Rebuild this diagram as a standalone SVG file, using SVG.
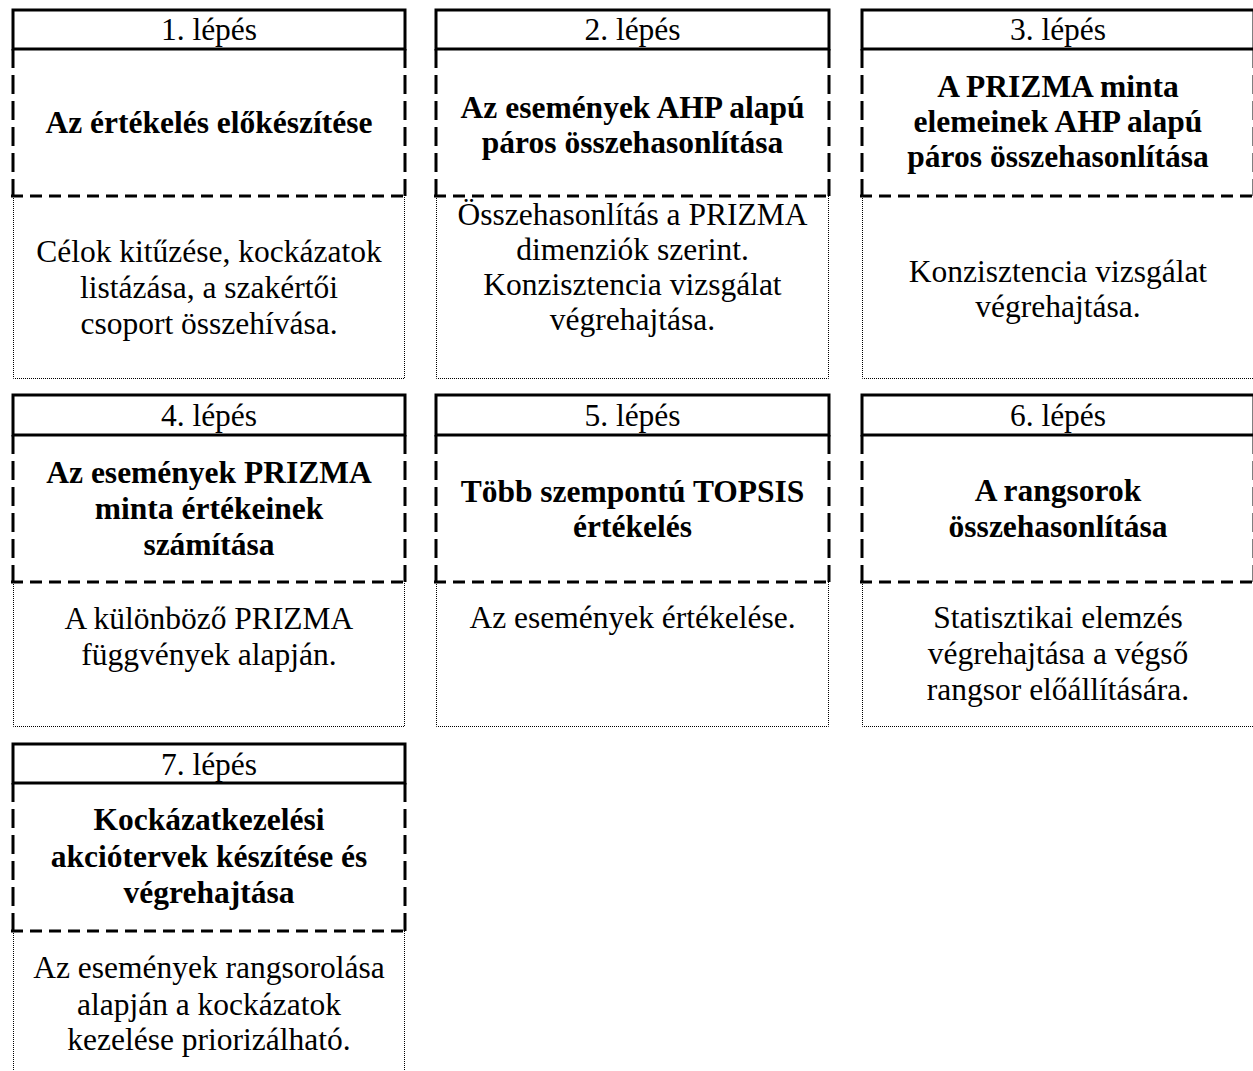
<svg xmlns="http://www.w3.org/2000/svg" width="1253" height="1071" viewBox="0 0 1253 1071">
<style>
  text { font-family: "Liberation Serif", "Times New Roman", serif; font-size: 31.5px; fill: #000; text-anchor: middle; }
  .b { font-weight: bold; }
  .hdr { fill: #fff; stroke: #000; stroke-width: 3; }
  .dh { stroke: #000; stroke-width: 3; stroke-dasharray: 12 7; fill: none; }
  .dv { stroke: #000; stroke-width: 3; stroke-dasharray: 19 7; fill: none; }
  .dt { stroke: #000; stroke-width: 1; stroke-dasharray: 1 1; fill: none; }
</style>
<rect width="1253" height="1071" fill="#fff"/>
<g id="connectors"/>

<g id="node1">
  <rect class="hdr" x="13" y="10" width="392" height="39"/>
  <text x="209" y="40">1. lépés</text>
  <line class="dv" x1="13" y1="49" x2="13" y2="196"/>
  <line class="dv" x1="405" y1="49" x2="405" y2="196"/>
  <polyline class="dt" points="13.5,196 13.5,378.5 404.5,378.5 404.5,196"/>
  <line class="dh" x1="11" y1="196" x2="407" y2="196"/>
  <text class="b" x="209" y="133">Az értékelés előkészítése</text>
  <text x="209" y="262">Célok kitűzése, kockázatok</text>
  <text x="209" y="298">listázása, a szakértői</text>
  <text x="209" y="334">csoport összehívása.</text>
</g>

<g id="node2">
  <rect class="hdr" x="436" y="10" width="393" height="39"/>
  <text x="632.5" y="40">2. lépés</text>
  <line class="dv" x1="436" y1="49" x2="436" y2="196"/>
  <line class="dv" x1="829" y1="49" x2="829" y2="196"/>
  <polyline class="dt" points="436.5,196 436.5,378.5 828.5,378.5 828.5,196"/>
  <line class="dh" x1="434" y1="196" x2="831" y2="196"/>
  <text class="b" x="632.5" y="118">Az események AHP alapú</text>
  <text class="b" x="632.5" y="153">páros összehasonlítása</text>
  <text x="632.5" y="225">Összehasonlítás a PRIZMA</text>
  <text x="632.5" y="260">dimenziók szerint.</text>
  <text x="632.5" y="295">Konzisztencia vizsgálat</text>
  <text x="632.5" y="330">végrehajtása.</text>
</g>

<g id="node3">
  <rect class="hdr" x="862" y="10" width="392" height="39"/>
  <text x="1058" y="40">3. lépés</text>
  <line class="dv" x1="862" y1="49" x2="862" y2="196"/>
  <line class="dv" x1="1254" y1="49" x2="1254" y2="196"/>
  <polyline class="dt" points="862.5,196 862.5,378.5 1253.5,378.5 1253.5,196"/>
  <line class="dh" x1="860" y1="196" x2="1256" y2="196"/>
  <text class="b" x="1058" y="97">A PRIZMA minta</text>
  <text class="b" x="1058" y="132">elemeinek AHP alapú</text>
  <text class="b" x="1058" y="167">páros összehasonlítása</text>
  <text x="1058" y="282">Konzisztencia vizsgálat</text>
  <text x="1058" y="317">végrehajtása.</text>
</g>

<g id="node4">
  <rect class="hdr" x="13" y="395" width="392" height="40"/>
  <text x="209" y="426">4. lépés</text>
  <line class="dv" x1="13" y1="435" x2="13" y2="582"/>
  <line class="dv" x1="405" y1="435" x2="405" y2="582"/>
  <polyline class="dt" points="13.5,582 13.5,726.5 404.5,726.5 404.5,582"/>
  <line class="dh" x1="11" y1="582" x2="407" y2="582"/>
  <text class="b" x="209" y="483">Az események PRIZMA</text>
  <text class="b" x="209" y="519">minta értékeinek</text>
  <text class="b" x="209" y="555">számítása</text>
  <text x="209" y="629">A különböző PRIZMA</text>
  <text x="209" y="665">függvények alapján.</text>
</g>

<g id="node5">
  <rect class="hdr" x="436" y="395" width="393" height="40"/>
  <text x="632.5" y="426">5. lépés</text>
  <line class="dv" x1="436" y1="435" x2="436" y2="582"/>
  <line class="dv" x1="829" y1="435" x2="829" y2="582"/>
  <polyline class="dt" points="436.5,582 436.5,726.5 828.5,726.5 828.5,582"/>
  <line class="dh" x1="434" y1="582" x2="831" y2="582"/>
  <text class="b" x="632.5" y="502">Több szempontú TOPSIS</text>
  <text class="b" x="632.5" y="537">értékelés</text>
  <text x="632.5" y="628">Az események értékelése.</text>
</g>

<g id="node6">
  <rect class="hdr" x="862" y="395" width="392" height="40"/>
  <text x="1058" y="426">6. lépés</text>
  <line class="dv" x1="862" y1="435" x2="862" y2="582"/>
  <line class="dv" x1="1254" y1="435" x2="1254" y2="582"/>
  <polyline class="dt" points="862.5,582 862.5,726.5 1253.5,726.5 1253.5,582"/>
  <line class="dh" x1="860" y1="582" x2="1256" y2="582"/>
  <text class="b" x="1058" y="501">A rangsorok</text>
  <text class="b" x="1058" y="537">összehasonlítása</text>
  <text x="1058" y="628">Statisztikai elemzés</text>
  <text x="1058" y="664">végrehajtása a végső</text>
  <text x="1058" y="700">rangsor előállítására.</text>
</g>

<g id="node7">
  <rect class="hdr" x="13" y="744" width="392" height="39"/>
  <text x="209" y="775">7. lépés</text>
  <line class="dv" x1="13" y1="783" x2="13" y2="931"/>
  <line class="dv" x1="405" y1="783" x2="405" y2="931"/>
  <polyline class="dt" points="13.5,931 13.5,1085 404.5,1085 404.5,931"/>
  <line class="dh" x1="11" y1="931" x2="407" y2="931"/>
  <text class="b" x="209" y="830">Kockázatkezelési</text>
  <text class="b" x="209" y="867">akciótervek készítése és</text>
  <text class="b" x="209" y="903">végrehajtása</text>
  <text x="209" y="978">Az események rangsorolása</text>
  <text x="209" y="1015">alapján a kockázatok</text>
  <text x="209" y="1050">kezelése priorizálható.</text>
</g>
</svg>
